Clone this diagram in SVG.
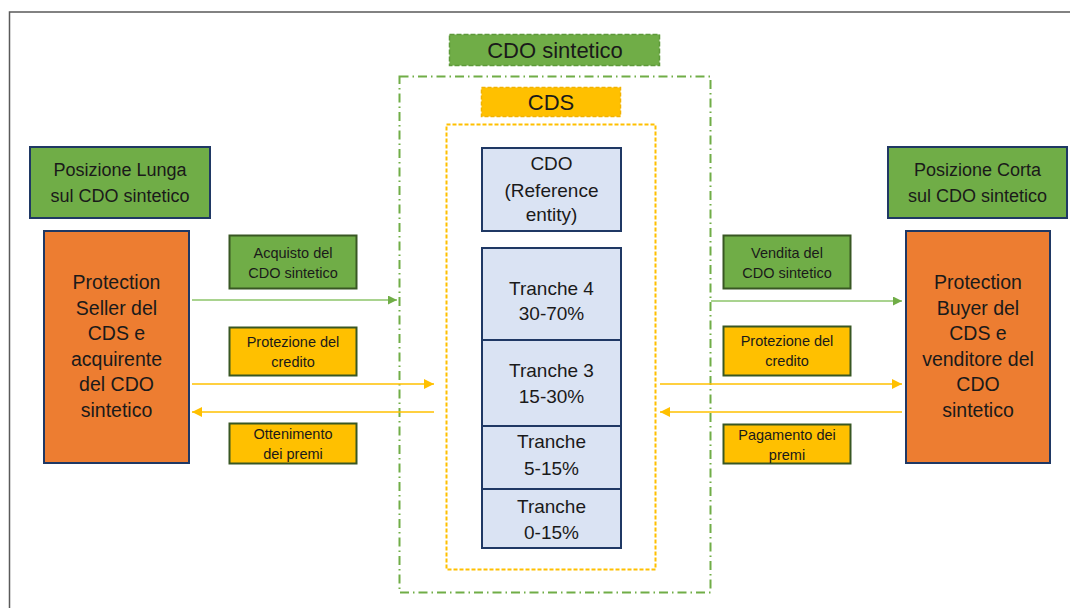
<svg xmlns="http://www.w3.org/2000/svg" width="1070" height="608" viewBox="0 0 1070 608">
  <defs>
    <style>
      text { font-family: "Liberation Sans", Arial, sans-serif; fill: #1a1a1a; text-anchor: middle; }
      .head { font-size: 18px; }
      .big { font-size: 19.5px; }
      .mid { font-size: 19px; }
      .small { font-size: 14.5px; }
      .title { font-size: 22px; }
      .pos { fill: #70AD47; stroke: #1F3864; stroke-width: 2; }
      .party { fill: #ED7D31; stroke: #1F3864; stroke-width: 2; }
      .lblg { fill: #70AD47; stroke: #385723; stroke-width: 2; }
      .lbly { fill: #FFC000; stroke: #385723; stroke-width: 2; }
      .tr { fill: #DAE3F3; stroke: #1F3864; stroke-width: 2; }
      .ag { stroke: #8CC46A; stroke-width: 1.5; fill: none; }
      .ay { stroke: #FFC000; stroke-width: 1.5; fill: none; }
    </style>
    <marker id="hg" viewBox="0 0 10 10" refX="10" refY="5" markerWidth="11" markerHeight="9" markerUnits="userSpaceOnUse" orient="auto">
      <path d="M0,0 L10,5 L0,10 Z" fill="#70AD47"/>
    </marker>
    <marker id="hy" viewBox="0 0 10 10" refX="10" refY="5" markerWidth="11" markerHeight="10" markerUnits="userSpaceOnUse" orient="auto">
      <path d="M0,0 L10,5 L0,10 Z" fill="#FFC000"/>
    </marker>
  </defs>

  <rect width="1070" height="608" fill="#ffffff"/>
  <!-- page frame -->
  <rect x="9.5" y="12" width="1080" height="620" fill="none" stroke="#5a5a5a" stroke-width="1.5"/>

  <!-- synthetic CDO container -->
  <g id="cdo-sintetico">
    <rect x="449.5" y="34.5" width="210" height="31" fill="#70AD47" stroke="#5E9A3A" stroke-width="1.5" stroke-dasharray="5 2"/>
    <text class="title" x="555" y="58">CDO sintetico</text>
    <rect x="399.5" y="76.5" width="311" height="516" fill="none" stroke="#70AD47" stroke-width="2" stroke-dasharray="9 4 1.5 4"/>
  </g>

  <!-- CDS container -->
  <g id="cds">
    <rect x="481.5" y="87.5" width="139" height="29" fill="#FFC000" stroke="#F2B200" stroke-width="1.5" stroke-dasharray="4 2"/>
    <text class="title" x="551" y="109.5">CDS</text>
    <rect x="446.5" y="124.5" width="209" height="445" fill="none" stroke="#FFC000" stroke-width="2" stroke-dasharray="4 2"/>
  </g>

  <!-- reference entity and tranches -->
  <g id="reference-entity">
    <rect class="tr" x="482" y="148" width="139" height="83"/>
    <text class="mid" x="551.5" y="170">CDO</text>
    <text class="mid" x="551.5" y="197">(Reference</text>
    <text class="mid" x="551.5" y="221">entity)</text>
  </g>
  <g id="tranche-4">
    <rect class="tr" x="482" y="248" width="139" height="92"/>
    <text class="mid" x="551.5" y="295">Tranche 4</text>
    <text class="mid" x="551.5" y="320">30-70%</text>
  </g>
  <g id="tranche-3">
    <rect class="tr" x="482" y="340" width="139" height="86"/>
    <text class="mid" x="551.5" y="377">Tranche 3</text>
    <text class="mid" x="551.5" y="403">15-30%</text>
  </g>
  <g id="tranche-2">
    <rect class="tr" x="482" y="426" width="139" height="63"/>
    <text class="mid" x="551.5" y="448">Tranche</text>
    <text class="mid" x="551.5" y="475">5-15%</text>
  </g>
  <g id="tranche-1">
    <rect class="tr" x="482" y="489" width="139" height="59"/>
    <text class="mid" x="551.5" y="513">Tranche</text>
    <text class="mid" x="551.5" y="539">0-15%</text>
  </g>

  <!-- left party -->
  <g id="posizione-lunga">
    <rect class="pos" x="30" y="147" width="180" height="71"/>
    <text class="head" x="120" y="176">Posizione Lunga</text>
    <text class="head" x="120" y="202">sul CDO sintetico</text>
  </g>
  <g id="protection-seller">
    <rect class="party" x="44" y="231" width="145" height="232"/>
    <text class="big" x="116.5" y="289">Protection</text>
    <text class="big" x="116.5" y="315">Seller del</text>
    <text class="big" x="116.5" y="340">CDS e</text>
    <text class="big" x="116.5" y="366">acquirente</text>
    <text class="big" x="116.5" y="391">del CDO</text>
    <text class="big" x="116.5" y="417">sintetico</text>
  </g>

  <!-- right party -->
  <g id="posizione-corta">
    <rect class="pos" x="888" y="147" width="179" height="71"/>
    <text class="head" x="977.5" y="176">Posizione Corta</text>
    <text class="head" x="977.5" y="202">sul CDO sintetico</text>
  </g>
  <g id="protection-buyer">
    <rect class="party" x="906" y="231" width="144" height="232"/>
    <text class="big" x="978" y="289">Protection</text>
    <text class="big" x="978" y="315">Buyer del</text>
    <text class="big" x="978" y="340">CDS e</text>
    <text class="big" x="978" y="366">venditore del</text>
    <text class="big" x="978" y="391">CDO</text>
    <text class="big" x="978" y="417">sintetico</text>
  </g>

  <!-- flow labels, left -->
  <g id="acquisto">
    <rect class="lblg" x="229.5" y="235.5" width="127" height="53"/>
    <text class="small" x="293" y="258">Acquisto del</text>
    <text class="small" x="293" y="278">CDO sintetico</text>
  </g>
  <g id="protezione-left">
    <rect class="lbly" x="229.5" y="327.5" width="127" height="48"/>
    <text class="small" x="293" y="347">Protezione del</text>
    <text class="small" x="293" y="367">credito</text>
  </g>
  <g id="ottenimento">
    <rect class="lbly" x="229.5" y="423.5" width="127" height="40"/>
    <text class="small" x="293" y="439">Ottenimento</text>
    <text class="small" x="293" y="459">dei premi</text>
  </g>

  <!-- flow labels, right -->
  <g id="vendita">
    <rect class="lblg" x="723.5" y="235.5" width="127" height="53"/>
    <text class="small" x="787" y="258">Vendita del</text>
    <text class="small" x="787" y="278">CDO sintetico</text>
  </g>
  <g id="protezione-right">
    <rect class="lbly" x="723.5" y="326.5" width="127" height="49"/>
    <text class="small" x="787" y="346">Protezione del</text>
    <text class="small" x="787" y="366">credito</text>
  </g>
  <g id="pagamento">
    <rect class="lbly" x="723.5" y="424.5" width="127" height="39"/>
    <text class="small" x="787" y="440">Pagamento dei</text>
    <text class="small" x="787" y="460">premi</text>
  </g>

  <!-- connectors -->
  <g id="connectors">
    <line class="ag" x1="192" y1="300" x2="397" y2="300" marker-end="url(#hg)"/>
    <line class="ay" x1="192" y1="384" x2="434" y2="384" marker-end="url(#hy)"/>
    <line class="ay" x1="434" y1="412" x2="192" y2="412" marker-end="url(#hy)"/>
    <line class="ag" x1="711" y1="301" x2="902" y2="301" marker-end="url(#hg)"/>
    <line class="ay" x1="660" y1="384" x2="902" y2="384" marker-end="url(#hy)"/>
    <line class="ay" x1="902" y1="412" x2="660" y2="412" marker-end="url(#hy)"/>
  </g>
</svg>
